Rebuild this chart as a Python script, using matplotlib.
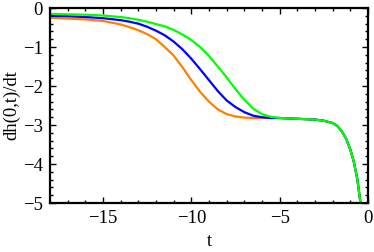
import numpy as np
import matplotlib.pyplot as plt
from matplotlib.ticker import MultipleLocator

# sample times
t_head = [-18, -17, -16, -15, -14, -13.5, -13, -12.5, -12, -11.5, -11, -10.5,
          -10, -9.5, -9, -8.5, -8, -7.5, -7, -6.5, -6, -5.5, -5]
t_tail = [-4.5, -4, -3.5, -3, -2.5, -2, -1.75, -1.5, -1.25, -1, -0.8, -0.6,
          -0.45, -0.35]

orange_head = [-0.25, -0.27, -0.29, -0.33, -0.42, -0.49, -0.57, -0.67, -0.8,
               -1.0, -1.22, -1.52, -1.85, -2.15, -2.4, -2.6, -2.72, -2.78,
               -2.81, -2.82, -2.82, -2.82, -2.82]
blue_head = [-0.2, -0.21, -0.23, -0.26, -0.31, -0.35, -0.4, -0.48, -0.58,
             -0.7, -0.86, -1.06, -1.3, -1.57, -1.85, -2.13, -2.37, -2.54,
             -2.67, -2.76, -2.8, -2.82, -2.82]
green_head = [-0.15, -0.16, -0.17, -0.19, -0.23, -0.26, -0.3, -0.35, -0.41,
              -0.47, -0.56, -0.68, -0.82, -1.0, -1.23, -1.5, -1.78, -2.08,
              -2.35, -2.58, -2.72, -2.79, -2.82]
# all three curves share the plateau and the final drop
tail = [-2.83, -2.84, -2.85, -2.86, -2.89, -2.95, -3.02, -3.15, -3.34, -3.63,
        -3.95, -4.4, -4.92, -5.3]

t = t_head + t_tail

plt.rcParams['font.family'] = ['Liberation Serif', 'DejaVu Serif']

fig = plt.figure(figsize=(3.74, 2.52), dpi=100)
ax = fig.add_axes([0.1337, 0.1944, 0.984 - 0.1337, 0.968 - 0.1944])

for vals, col in [(orange_head, '#ff8000'), (blue_head, '#0000ff'),
                  (green_head, '#00ff00')]:
    ax.plot(t, vals + tail, color=col, lw=1.6, solid_joinstyle='round')

ax.set_xlim(-18, 0)
ax.set_ylim(-5, 0)
ax.xaxis.set_major_locator(MultipleLocator(5))
ax.xaxis.set_minor_locator(MultipleLocator(1))
ax.yaxis.set_major_locator(MultipleLocator(1))
ax.yaxis.set_minor_locator(MultipleLocator(0.2))
ax.tick_params(which='both', direction='in', top=True, right=True,
               labelsize=13.5, width=1)
ax.tick_params(which='major', length=4, pad=5)
ax.tick_params(which='minor', length=2)
for s in ax.spines.values():
    s.set_linewidth(1.6)

ax.set_xlabel('t', fontsize=13.5, labelpad=4)
ax.set_ylabel('dh(0,t)/dt', fontsize=13.5, labelpad=2)

fig.savefig('out.png', dpi=100)
